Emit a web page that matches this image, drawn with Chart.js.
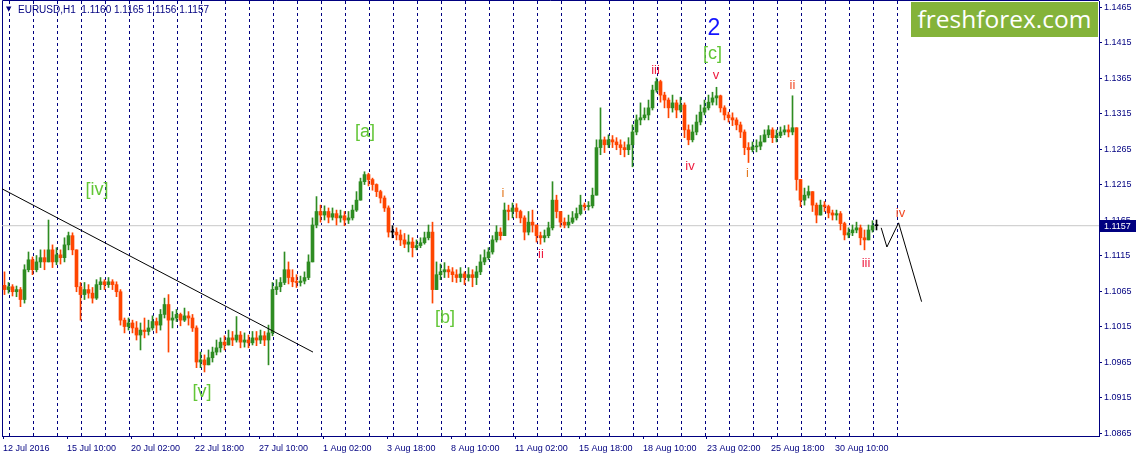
<!DOCTYPE html>
<html><head><meta charset="utf-8">
<script src="https://cdn.jsdelivr.net/npm/chart.js"></script>
<style>
html,body{margin:0;padding:0;background:#fff;width:1138px;height:457px;overflow:hidden}
#wrap{position:relative;width:1138px;height:457px}
canvas{position:absolute;left:0;top:0}
#tri{position:absolute;left:6px;top:5px;font:7px "DejaVu Sans",sans-serif;color:#000080}
#hdr{position:absolute;left:18px;top:4px;font:10px "Liberation Sans",Arial,sans-serif;color:#000080;white-space:pre;line-height:12px}
#logo{position:absolute;left:911px;top:2px;width:187px;height:35px;background:#84b33a;color:#fff;font:24.5px "Open Sans",sans-serif;line-height:34px;text-align:center}
</style></head><body>
<div id="wrap"><canvas id="c" width="1138" height="457"></canvas>
<div id="tri">▼</div>
<div id="hdr">EURUSD,H1  1.1160 1.1165 1.1156 1.1157</div>
<div id="logo">freshforex.com</div></div>
<script>
// ---- data (4-hour candles) ----
const firstOpen = 1.1073;
const closes = [
1.1067,1.1071,1.1064,1.1067,1.1053,1.1095,1.1109,1.1095,1.1106,1.1112,
1.1106,1.1123,1.1106,1.1116,1.1112,1.1130,1.1143,1.1123,1.1071,1.1060,
1.1067,1.1062,1.1055,1.1074,1.1078,1.1074,1.1078,1.1074,1.1064,1.1024,
1.1015,1.1020,1.1013,1.1003,1.1010,1.1008,1.1013,1.1022,1.1017,1.1032,
1.1046,1.1024,1.1027,1.1032,1.1024,1.1030,1.1027,1.1013,1.0965,1.0968,
1.0961,1.0971,1.0979,1.0985,1.0993,1.0989,1.0999,1.0996,1.1003,1.0993,
1.0996,1.0992,1.0999,1.0996,1.1002,1.0996,1.1006,1.1067,1.1071,1.1077,
1.1095,1.1084,1.1078,1.1077,1.1079,1.1084,1.1106,1.1158,1.1177,1.1172,
1.1177,1.1169,1.1174,1.1168,1.1171,1.1165,1.1168,1.1179,1.1193,1.1219,
1.1229,1.1222,1.1215,1.1205,1.1196,1.1182,1.1148,1.1148,1.1144,1.1137,
1.1131,1.1134,1.1126,1.1129,1.1133,1.1140,1.1148,1.1067,1.1088,1.1092,
1.1095,1.1092,1.1088,1.1084,1.1089,1.1084,1.1088,1.1084,1.1092,1.1106,
1.1112,1.1120,1.1137,1.1148,1.1143,1.1179,1.1177,1.1182,1.1177,1.1168,
1.1148,1.1162,1.1158,1.1143,1.1140,1.1143,1.1154,1.1193,1.1177,1.1162,
1.1158,1.1162,1.1168,1.1174,1.1186,1.1184,1.1185,1.1200,1.1267,1.1278,
1.1271,1.1278,1.1275,1.1271,1.1267,1.1264,1.1271,1.1289,1.1306,1.1309,
1.1313,1.1323,1.1348,1.1360,1.1341,1.1334,1.1323,1.1330,1.1320,1.1327,
1.1292,1.1278,1.1289,1.1303,1.1317,1.1323,1.1331,1.1337,1.1340,1.1323,
1.1313,1.1309,1.1306,1.1299,1.1289,1.1267,1.1264,1.1268,1.1269,1.1275,
1.1285,1.1292,1.1281,1.1284,1.1289,1.1292,1.1289,1.1295,1.1222,1.1193,
1.1200,1.1205,1.1186,1.1172,1.1186,1.1184,1.1175,1.1172,1.1174,1.1160,
1.1144,1.1147,1.1151,1.1154,1.1140,1.1137,1.1151,1.1157,1.1157];
const highs = [
1.1092,1.1077,1.1074,1.1072,1.1070,1.1102,1.1120,1.1113,1.1115,1.1123,
1.1123,1.1165,1.1130,1.1126,1.1123,1.1140,1.1148,1.1147,1.1123,1.1077,
1.1077,1.1074,1.1070,1.1081,1.1084,1.1081,1.1084,1.1081,1.1078,1.1067,
1.1027,1.1027,1.1024,1.1022,1.1020,1.1027,1.1024,1.1030,1.1027,1.1039,
1.1055,1.1060,1.1036,1.1039,1.1034,1.1041,1.1036,1.1032,1.1016,1.0979,
1.0975,1.0982,1.0986,1.0996,1.0999,1.1002,1.1010,1.1008,1.1029,1.1008,
1.1006,1.1003,1.1008,1.1008,1.1010,1.1008,1.1017,1.1077,1.1081,1.1084,
1.1120,1.1106,1.1095,1.1088,1.1086,1.1092,1.1116,1.1168,1.1198,1.1186,
1.1185,1.1182,1.1182,1.1179,1.1179,1.1177,1.1177,1.1186,1.1205,1.1224,
1.1233,1.1231,1.1224,1.1216,1.1207,1.1199,1.1185,1.1157,1.1154,1.1151,
1.1146,1.1144,1.1140,1.1137,1.1140,1.1148,1.1158,1.1162,1.1106,1.1103,
1.1105,1.1100,1.1098,1.1095,1.1098,1.1092,1.1098,1.1095,1.1100,1.1116,
1.1123,1.1126,1.1143,1.1157,1.1154,1.1189,1.1186,1.1189,1.1188,1.1179,
1.1171,1.1177,1.1179,1.1158,1.1148,1.1151,1.1162,1.1219,1.1200,1.1177,
1.1168,1.1172,1.1177,1.1182,1.1200,1.1189,1.1191,1.1210,1.1278,1.1323,
1.1282,1.1285,1.1284,1.1281,1.1278,1.1275,1.1281,1.1299,1.1313,1.1330,
1.1323,1.1334,1.1355,1.1365,1.1362,1.1345,1.1337,1.1341,1.1334,1.1338,
1.1330,1.1299,1.1299,1.1313,1.1327,1.1334,1.1341,1.1345,1.1352,1.1341,
1.1326,1.1317,1.1316,1.1309,1.1303,1.1292,1.1274,1.1275,1.1278,1.1284,
1.1292,1.1298,1.1295,1.1292,1.1296,1.1298,1.1299,1.1340,1.1295,1.1222,
1.1210,1.1213,1.1205,1.1189,1.1193,1.1191,1.1186,1.1179,1.1179,1.1177,
1.1162,1.1154,1.1158,1.1162,1.1158,1.1151,1.1158,1.1164,1.1165];
const lows = [
1.1060,1.1062,1.1058,1.1057,1.1043,1.1048,1.1092,1.1088,1.1092,1.1098,
1.1095,1.1106,1.1098,1.1102,1.1103,1.1106,1.1123,1.1116,1.1064,1.1024,
1.1053,1.1055,1.1048,1.1053,1.1067,1.1067,1.1070,1.1067,1.1057,1.1017,
1.1006,1.1010,1.1006,1.0996,1.0982,1.0999,1.1003,1.1010,1.1006,1.1010,
1.1027,1.0979,1.1013,1.1022,1.1016,1.1022,1.1017,1.1008,1.0957,1.0957,
1.0951,1.0961,1.0965,1.0975,1.0979,1.0982,1.0989,1.0988,1.0993,1.0985,
1.0986,1.0985,1.0989,1.0988,1.0991,1.0988,1.0961,1.1002,1.1060,1.1064,
1.1074,1.1075,1.1071,1.1070,1.1072,1.1075,1.1081,1.1106,1.1154,1.1162,
1.1165,1.1161,1.1165,1.1158,1.1162,1.1157,1.1160,1.1165,1.1177,1.1193,
1.1215,1.1213,1.1207,1.1198,1.1189,1.1177,1.1141,1.1140,1.1137,1.1129,
1.1126,1.1120,1.1113,1.1123,1.1126,1.1131,1.1137,1.1048,1.1067,1.1081,
1.1084,1.1084,1.1078,1.1077,1.1078,1.1074,1.1079,1.1071,1.1074,1.1088,
1.1102,1.1109,1.1117,1.1134,1.1137,1.1143,1.1165,1.1168,1.1168,1.1161,
1.1137,1.1144,1.1148,1.1134,1.1131,1.1134,1.1140,1.1151,1.1168,1.1155,
1.1154,1.1154,1.1160,1.1165,1.1172,1.1179,1.1179,1.1182,1.1200,1.1257,
1.1260,1.1267,1.1267,1.1264,1.1257,1.1254,1.1257,1.1240,1.1285,1.1299,
1.1306,1.1306,1.1320,1.1345,1.1331,1.1323,1.1309,1.1317,1.1309,1.1317,
1.1281,1.1271,1.1275,1.1285,1.1299,1.1313,1.1320,1.1327,1.1327,1.1317,
1.1306,1.1303,1.1298,1.1292,1.1281,1.1257,1.1246,1.1261,1.1261,1.1264,
1.1275,1.1281,1.1274,1.1275,1.1281,1.1285,1.1282,1.1285,1.1207,1.1184,
1.1186,1.1196,1.1177,1.1161,1.1172,1.1177,1.1168,1.1165,1.1165,1.1151,
1.1137,1.1140,1.1143,1.1147,1.1130,1.1123,1.1137,1.1148,1.1151];
const candleHours = 4;          // each candle = 4 H1 bars
const firstCandleHour = -4.5;   // centre of first candle, H1 bars from 13 Jul 00:00
const bidPrice = 1.1157;

const dateLabels = ['12 Jul 2016','15 Jul 10:00','20 Jul 02:00','22 Jul 18:00','27 Jul 10:00','1 Aug 02:00','3 Aug 18:00','8 Aug 10:00','11 Aug 02:00','15 Aug 18:00','18 Aug 10:00','23 Aug 02:00','25 Aug 18:00','30 Aug 10:00'];
const dateLabelHours = [-6,58,122,186,250,314,378,442,506,570,634,698,762,826];
const daySeparatorHours = [0,24,48,72,96,120,144,168,192,216,240,264,288,312,336,360,384,408,432,456,480,504,528,552,576,600,624,648,672,696,720,744,768,792,816,840,864,888];
const priceTicks = [1.0865,1.0915,1.0965,1.1015,1.1065,1.1115,1.1165,1.1215,1.1265,1.1315,1.1365,1.1415,1.1465];

const trendLine = [{x:-7,y:1.1209},{x:304,y:1.0979}];
const projection = [{x:872.2,y:1.1154},{x:877.9,y:1.1127},{x:889.6,y:1.1161},{x:912.6,y:1.1050}];

const waveLabels = [
 {t:'[iv]',x:88,y:1.1207,k:'g'},{t:'[v]',x:193,y:1.0923,k:'g'},
 {t:'[a]',x:356,y:1.1289,k:'g'},{t:'[b]',x:436,y:1.1027,k:'g'},
 {t:'[c]',x:703.5,y:1.1399,k:'g'},{t:'2',x:705,y:1.1435,k:'b'},
 {t:'i',x:494,y:1.1203,k:'o'},{t:'ii',x:532,y:1.1116,k:'r'},
 {t:'iii',x:646.5,y:1.1376,k:'r'},{t:'iv',x:681,y:1.1241,k:'r'},
 {t:'v',x:707,y:1.1369,k:'r'},{t:'i',x:738.5,y:1.1230,k:'o'},
 {t:'ii',x:783.5,y:1.1354,k:'or'},{t:'iii',x:857,y:1.1104,k:'r'},
 {t:'iv',x:891.5,y:1.1174,k:'or'}];

// ---- build ----
const NAVY = '#000080';
const X_MIN = -7, X_MAX = 1090, Y_MIN = 1.08608, Y_MAX = 1.14735;
const opens = closes.map((c, j) => j === 0 ? firstOpen : closes[j - 1]);
const times = closes.map((c, j) => firstCandleHour + candleHours * j);
const colors = closes.map((c, j) => Math.abs(c - opens[j]) < 0.00005 ? '#000000' : (c > opens[j] ? '#2e8c22' : '#ff4500'));
const wickData = times.map((x, j) => ({x, y: [Math.min(lows[j], opens[j], closes[j]), Math.max(highs[j], opens[j], closes[j])]}));
const bodyData = times.map((x, j) => ({x, y: [opens[j], closes[j]]}));

const labelStyle = {
  g: {c:'#62c636', f:'18px "Liberation Sans", Arial, sans-serif'},
  b: {c:'#1414ff', f:'23px "Liberation Sans", Arial, sans-serif'},
  r: {c:'#ee1c40', f:'13px "Liberation Sans", Arial, sans-serif'},
  o: {c:'#e37a22', f:'13px "Liberation Sans", Arial, sans-serif'},
  or:{c:'#f24a26', f:'13px "Liberation Sans", Arial, sans-serif'}
};

const overlay = {
  id: 'overlay',
  beforeDatasetsDraw(chart) {
    const {ctx, chartArea: a} = chart;
    ctx.save();
    ctx.strokeStyle = NAVY; ctx.lineWidth = 1;
    ctx.beginPath();
    ctx.moveTo(a.left + 0.5, a.bottom); ctx.lineTo(a.left + 0.5, a.top - 0.5);
    ctx.lineTo(a.right, a.top - 0.5);
    ctx.stroke();
    ctx.restore();
  },
  afterDatasetsDraw(chart) {
    const {ctx} = chart;
    const xs = chart.scales.x, ys = chart.scales.y;
    ctx.save();
    ctx.textAlign = 'center'; ctx.textBaseline = 'middle';
    waveLabels.forEach(l => {
      const s = labelStyle[l.k];
      ctx.fillStyle = s.c; ctx.font = s.f;
      ctx.fillText(l.t, xs.getPixelForValue(l.x), ys.getPixelForValue(l.y));
    });
    ctx.restore();
  },
  afterDraw(chart) {
    const {ctx, chartArea: a} = chart;
    const ys = chart.scales.y;
    const py = Math.round(ys.getPixelForValue(bidPrice));
    ctx.save();
    ctx.fillStyle = NAVY;
    ctx.fillRect(a.right + 1, py - 6, 36, 12);
    ctx.fillStyle = '#ffffff';
    ctx.font = '9px "Liberation Sans", Arial, sans-serif';
    ctx.textAlign = 'left'; ctx.textBaseline = 'middle';
    ctx.fillText(bidPrice.toFixed(4), a.right + 5, py + 0.5);
    ctx.restore();
  }
};

new Chart(document.getElementById('c'), {
  type: 'bar',
  data: {
    datasets: [
      {type:'line', data:[{x:X_MIN,y:bidPrice},{x:X_MAX,y:bidPrice}], borderColor:'#c8c8c8', borderWidth:1, pointRadius:0, order:10},
      {type:'bar', data:wickData, backgroundColor:colors, barThickness:1, grouped:false, borderWidth:0, order:6},
      {type:'bar', data:bodyData, backgroundColor:colors, barThickness:3, grouped:false, borderWidth:0, minBarLength:1, order:5},
      {type:'line', data:trendLine, borderColor:'#000000', borderWidth:1, pointRadius:0, order:1},
      {type:'line', data:projection, borderColor:'#000000', borderWidth:1, pointRadius:0, order:1}
    ]
  },
  options: {
    responsive:false, animation:false, devicePixelRatio:1,
    layout:{padding:{left:2, top:1, right:0, bottom:0}},
    plugins:{legend:{display:false}, tooltip:{enabled:false}},
    scales:{
      x:{type:'linear', position:'bottom', min:X_MIN, max:X_MAX, offset:false,
         grid:{offset:false, color:NAVY, lineWidth:1, drawTicks:false, drawOnChartArea:true},
         border:{display:false, dash:[3,3]},
         ticks:{display:false},
         afterBuildTicks:s=>{s.ticks = daySeparatorHours.map(v=>({value:v}));},
         afterFit:s=>{s.height=0; s.paddingLeft=0; s.paddingRight=0;}},
      xl:{type:'linear', position:'bottom', min:X_MIN, max:X_MAX, offset:false,
         grid:{offset:false, drawOnChartArea:false, drawTicks:true, tickLength:3, tickColor:NAVY},
         border:{display:true, color:NAVY},
         ticks:{align:'start', autoSkip:false, maxRotation:0, minRotation:0, padding:4, color:NAVY,
                font:{family:'"Liberation Sans", Arial, sans-serif', size:9},
                callback:(v,i)=>dateLabels[i]},
         afterBuildTicks:s=>{s.ticks = dateLabelHours.map(v=>({value:v}));},
         afterFit:s=>{s.height=21; s.paddingLeft=0; s.paddingRight=0;}},
      y:{type:'linear', position:'right', min:Y_MIN, max:Y_MAX, beginAtZero:false,
         grid:{drawOnChartArea:false, drawTicks:true, tickLength:3, tickColor:NAVY},
         border:{display:true, color:NAVY},
         ticks:{padding:2, crossAlign:'near', color:NAVY,
                font:{family:'"Liberation Sans", Arial, sans-serif', size:9},
                callback:v=>Number(v).toFixed(4)},
         afterBuildTicks:s=>{s.ticks = priceTicks.map(v=>({value:v}));},
         afterFit:s=>{s.width=39; s.paddingTop=0; s.paddingBottom=0;}}
    }
  },
  plugins:[overlay]
});
</script>
</body></html>
